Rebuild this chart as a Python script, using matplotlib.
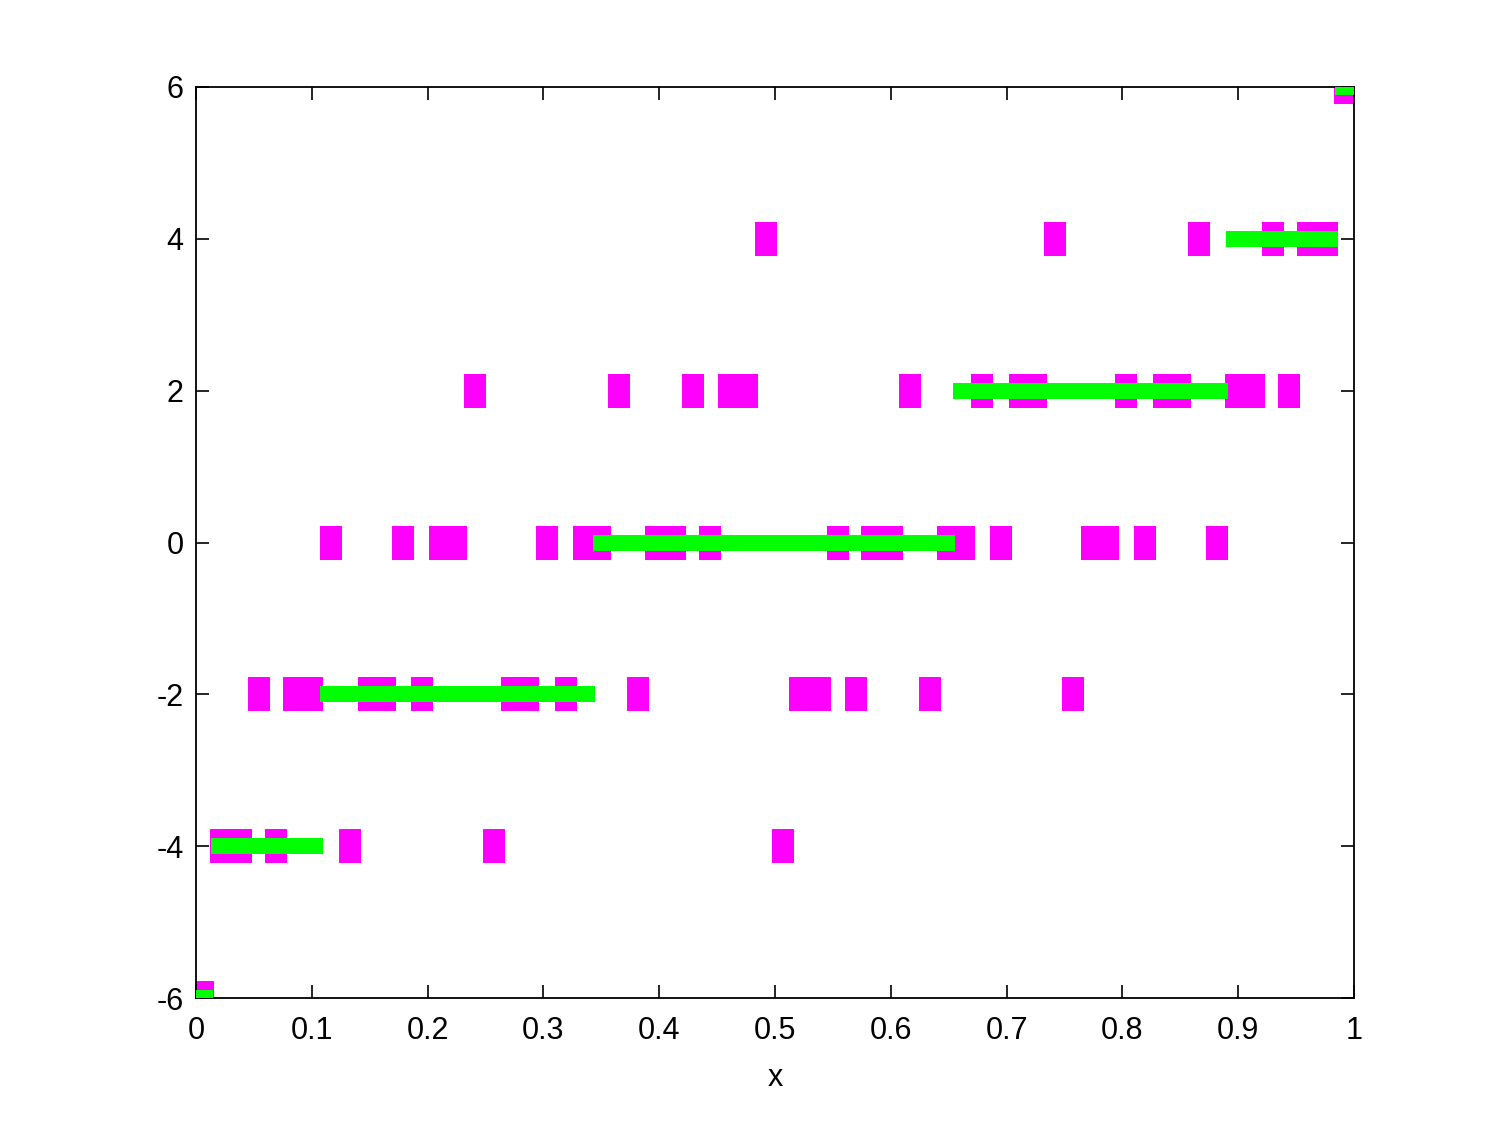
import matplotlib
matplotlib.use('Agg')
import matplotlib.pyplot as plt
from matplotlib.path import Path
import numpy as np

# Шумовые отсчёты (пурпурные) по уровням квантования
noisy_m6 = [0.006]
noisy_m4 = [0.0216, 0.0389, 0.069, 0.1327, 0.2571, 0.5073]
noisy_m2 = [0.0544, 0.0843, 0.1005, 0.1497, 0.1635, 0.1949, 0.2732, 0.2870,
            0.3192, 0.3814, 0.522, 0.539, 0.570, 0.634, 0.757]
noisy_0 = [0.1166, 0.1788, 0.2110, 0.2248, 0.3031, 0.3353, 0.3491, 0.3975,
           0.4136, 0.4436, 0.5541, 0.5841, 0.6008, 0.6491, 0.6629, 0.6952,
           0.7735, 0.7873, 0.8195, 0.8817]
noisy_2 = [0.2409, 0.3656, 0.4289, 0.4600, 0.4761, 0.6166, 0.6790, 0.7113,
           0.7251, 0.8034, 0.8356, 0.8494, 0.8978, 0.9139, 0.9439]
noisy_4 = [0.492, 0.742, 0.866, 0.930, 0.960, 0.977]
noisy_6 = [0.9919]

# Чистый квантованный сигнал (зелёный): уровни и границы по x
clean_levels = [-6, -4, -2, 0, 2, 4, 6]
clean_start = [0.0, 0.013, 0.1073, 0.3426, 0.6537, 0.8895, 0.9834]
clean_end = [0.0147, 0.1097, 0.3446, 0.6554, 0.8909, 0.9860, 1.0]

noisy_rows = {-6: noisy_m6, -4: noisy_m4, -2: noisy_m2, 0: noisy_0,
              2: noisy_2, 4: noisy_4, 6: noisy_6}

plt.rcParams['font.family'] = ['Liberation Sans', 'DejaVu Sans']

fig = plt.figure(figsize=(14.95, 11.21), dpi=100)
ax = fig.add_axes([196 / 1495, 123 / 1121, 1158 / 1495, 911 / 1121])

# прямоугольный маркер (ширина/высота как на картинке)
hw = 0.5 * 21.3 / 34.3
rect = Path([(-hw, -0.5), (hw, -0.5), (hw, 0.5), (-hw, 0.5), (-hw, -0.5)],
            [Path.MOVETO, Path.LINETO, Path.LINETO, Path.LINETO, Path.CLOSEPOLY])

for level, xs in noisy_rows.items():
    ax.plot(xs, [level] * len(xs), linestyle='none', marker=rect,
            markersize=24.7, markerfacecolor='#ff00ff', markeredgewidth=0,
            zorder=2)

ax.hlines(clean_levels, clean_start, clean_end, colors='#00ff00',
          linewidth=11.5, capstyle='butt', zorder=3)

ax.set_xlim(0, 1)
ax.set_ylim(-6, 6)
ax.set_xticks(np.arange(0, 1.01, 0.1))
ax.set_xticklabels(['0', '0.1', '0.2', '0.3', '0.4', '0.5', '0.6', '0.7',
                    '0.8', '0.9', '1'])
ax.set_yticks(np.arange(-6, 7, 2))
ax.set_yticklabels(['-6', '-4', '-2', '0', '2', '4', '6'])
ax.tick_params(direction='in', length=9.4, width=1.2, top=True, right=True,
               labelsize=22)
ax.tick_params(axis='x', pad=13)
ax.tick_params(axis='y', pad=9)
for s in ax.spines.values():
    s.set_linewidth(1.3)
ax.set_xlabel('x', fontsize=22, labelpad=12)

fig.savefig('out.png', dpi=100)
